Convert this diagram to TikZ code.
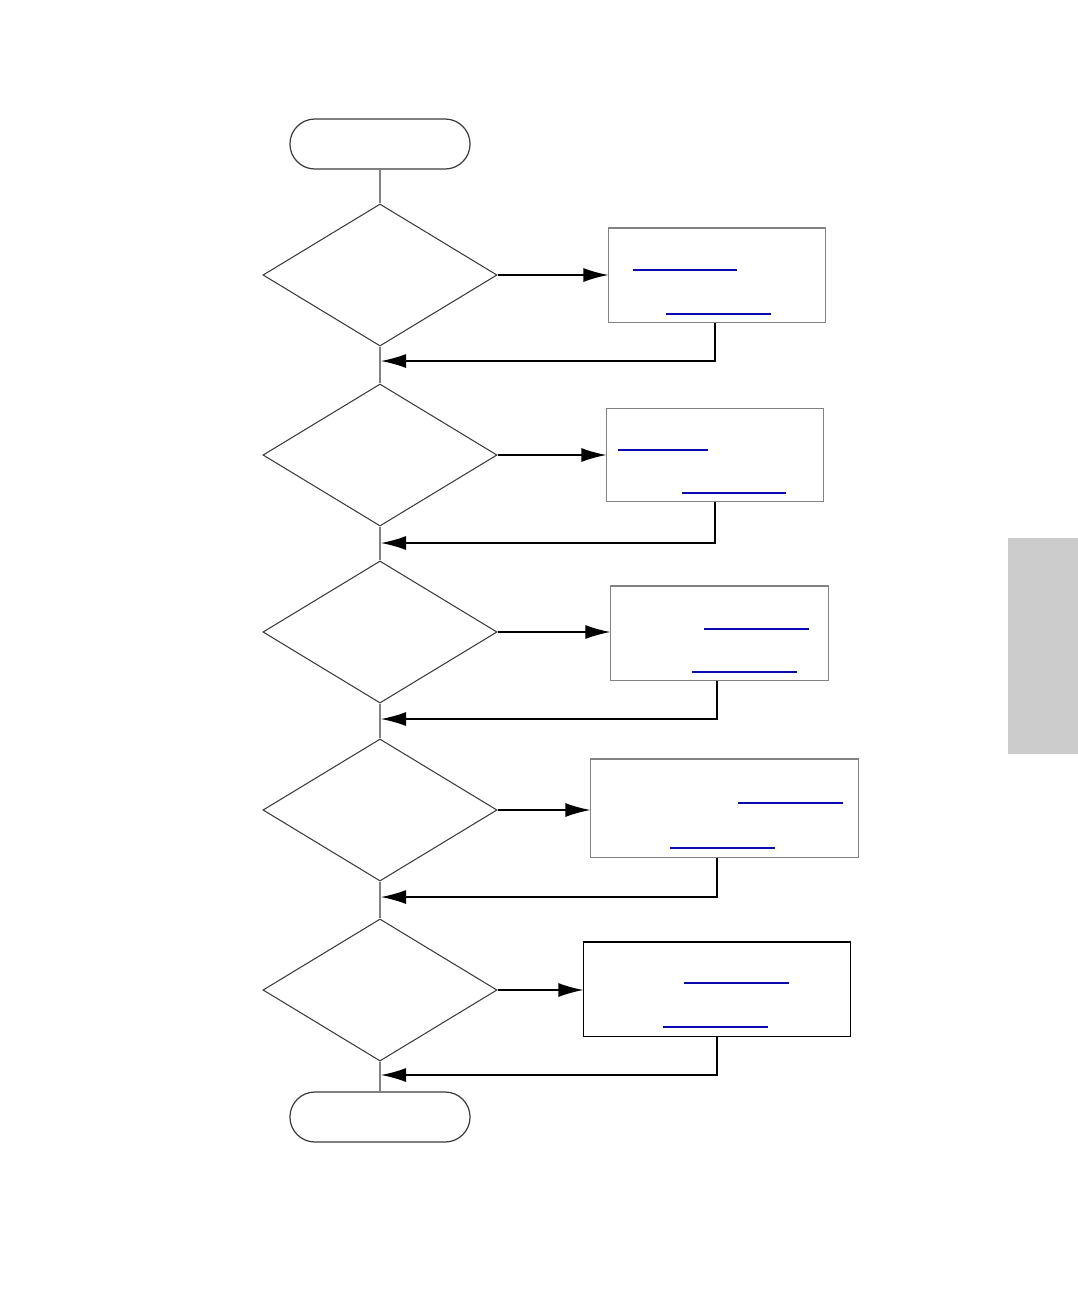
\documentclass[tikz,border=0pt]{standalone}
\usepackage{xcolor}
\usepackage{tikz}
\usetikzlibrary{shapes.geometric, shapes.misc, positioning, arrows.meta}
\definecolor{FlowGray}{RGB}{130,130,130}
\definecolor{FlowLine}{RGB}{60,60,60}
\definecolor{LinkBlue}{RGB}{10,10,175}
\definecolor{TabGray}{RGB}{204,204,204}

\begin{document}
\begin{tikzpicture}[x=0.01cm, y=-0.01cm,
          term/.style={rounded rectangle, draw=FlowLine, line width=0.35pt,
                       minimum width=1.8cm, minimum height=0.5cm, inner sep=0pt},
          decide/.style={diamond, draw=FlowLine, line width=0.3pt,
                         minimum width=2.34cm, minimum height=1.42cm, inner sep=0pt},
          action/.style={rectangle, draw=FlowGray, line width=0.3pt, inner sep=0pt},
          trunk/.style={draw=FlowGray, line width=0.4pt},
          flow/.style={draw=black, line width=0.4pt,
                       -{Latex[length=0.25cm, width=0.14cm]}},
          link/.style={draw=LinkBlue, line width=0.45pt},
          linkb/.style={draw=LinkBlue, line width=0.6pt}
        ]
        \useasboundingbox (0,0) rectangle (1078,1296);

        % Side tab
        \fill[TabGray] (1008,538) rectangle (1078,754);

        % Start / end
        \node[term] (start) at (380,144) {};
        \node[term] (stop) at (380,1117) {};

        % Decisions
        \node[decide] (d1) at (380,275) {};
        \node[decide] (d2) at (380,455) {};
        \node[decide] (d3) at (380,632) {};
        \node[decide] (d4) at (380,810) {};
        \node[decide] (d5) at (380,990) {};

        % Actions
        \node[action, minimum width=2.16cm, minimum height=0.94cm] (a1) at (717,275) {};
        \node[action, minimum width=2.16cm, minimum height=0.93cm] (a2) at (715,455) {};
        \node[action, minimum width=2.17cm, minimum height=0.94cm] (a3) at (719.5,633) {};
        \node[action, minimum width=2.67cm, minimum height=0.98cm] (a4) at (724.5,808) {};
        \node[action, draw=black, minimum width=2.66cm, minimum height=0.94cm] (a5) at (717,989) {};

        % Junctions on the trunk
        \coordinate (j1) at (381,361);
        \coordinate (j2) at (381,543);
        \coordinate (j3) at (381,719);
        \coordinate (j4) at (381,897);
        \coordinate (j5) at (381,1075);

        % Trunk
        \draw[trunk] (start.south) -- (d1.north);
        \draw[trunk] (d1.south) -- (d2.north);
        \draw[trunk] (d2.south) -- (d3.north);
        \draw[trunk] (d3.south) -- (d4.north);
        \draw[trunk] (d4.south) -- (d5.north);
        \draw[trunk] (d5.south) -- (stop.north);

        % Branches out
        \draw[flow] (d1.east) -- (d1.east -| a1.west);
        \draw[flow] (d2.east) -- (d2.east -| a2.west);
        \draw[flow] (d3.east) -- (d3.east -| a3.west);
        \draw[flow] (d4.east) -- (d4.east -| a4.west);
        \draw[flow] (d5.east) -- (d5.east -| a5.west);

        % Branches back
        \draw[flow] (a1.south -| 715,0) |- (j1);
        \draw[flow] (a2.south -| 715,0) |- (j2);
        \draw[flow] (a3.south -| 717,0) |- (j3);
        \draw[flow] (a4.south -| 717,0) |- (j4);
        \draw[flow] (a5.south -| 717,0) |- (j5);

        % Links
        \draw[linkb] (633,270) -- (737,270);
        \draw[link]  (666,314) -- (771,314);
        \draw[link]  (618,450) -- (708,450);
        \draw[linkb] (682,493) -- (786,493);
        \draw[link]  (704,629) -- (809,629);
        \draw[linkb] (692,672) -- (797,672);
        \draw[link]  (738,803) -- (843,803);
        \draw[linkb] (670,848) -- (775,848);
        \draw[link]  (684,983) -- (789,983);
        \draw[link]  (663,1027) -- (768,1027);
      \end{tikzpicture}
\end{document}
